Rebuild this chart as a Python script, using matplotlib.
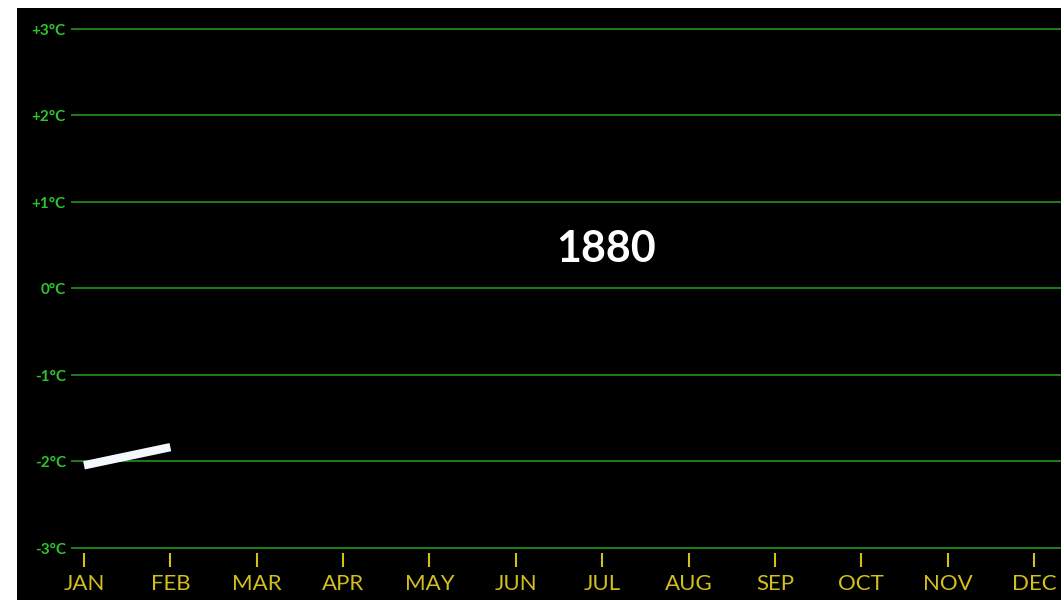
import numpy as np
import matplotlib.pyplot as plt

# month labels, temperature levels and the (only) year drawn so far
months = ['JAN', 'FEB', 'MAR', 'APR', 'MAY', 'JUN', 'JUL', 'AUG', 'SEP', 'OCT', 'NOV', 'DEC']
levels = [3, 2, 1, 0, -1, -2, -3]
level_labels = ['+3°C', '+2°C', '+1°C', '0°C', '-1°C', '-2°C', '-3°C']
year = '1880'
anomaly = [-2.05, -1.84]  # JAN, FEB

GREEN_LINE = '#1c8a1c'
GREEN_TEXT = '#2ec42e'
YELLOW = '#d2bf1c'

fig = plt.figure(figsize=(10.61, 6.0), dpi=100, facecolor='white')
W, H = 1061, 600
ax = fig.add_axes([17 / W, 0, 1 - 17 / W, 1 - 8 / H], facecolor='black')

px_month = 86.36
px_deg = 86.5
ax.set_xlim((17 - 84) / px_month, (1061 - 84) / px_month)
ax.set_ylim(-312 / px_deg, 280 / px_deg)
ax.set_xticks([])
ax.set_yticks([])
for s in ax.spines.values():
    s.set_visible(False)

x_start = (71 - 84) / px_month
ax.hlines(levels, x_start, 12, colors=GREEN_LINE, linewidth=1.3)
for lv, lab in zip(levels, level_labels):
    ax.text(x_start - 0.06, lv - 0.025, lab, color=GREEN_TEXT, fontsize=11, fontweight='bold',
            family='Lato', ha='right', va='center')

xs = np.arange(len(months))
ax.vlines(xs, -3.225, -3.064, colors=YELLOW, linewidth=1.5)
for x, m in zip(xs, months):
    ax.text(x, -3.42, m, color=YELLOW, fontsize=16, family='Lato',
            ha='center', va='center')

ax.plot(np.arange(len(anomaly)), anomaly, color='#f4f9ff', linewidth=6,
        solid_capstyle='butt')

ax.text(6.04, 0.455, year, color='white', fontsize=31, fontweight='bold',
        family='Lato', ha='center', va='center')

fig.savefig('out.png', dpi=100, facecolor='white')
